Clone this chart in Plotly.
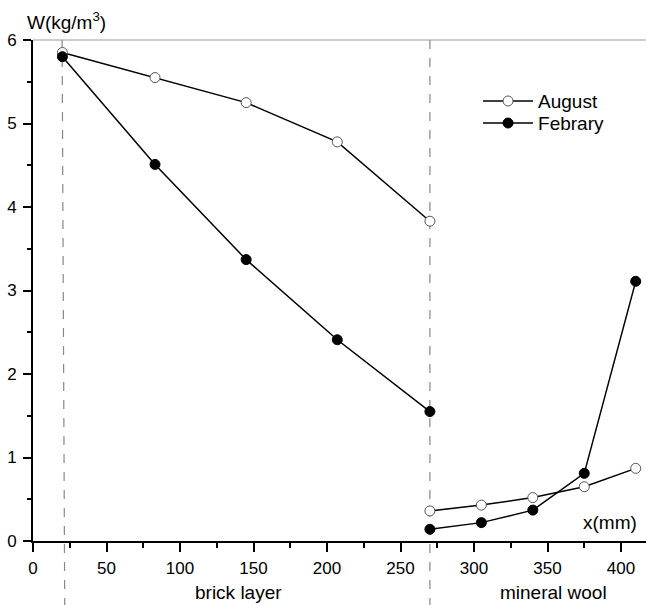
import plotly.graph_objects as go

# Moisture content profile across the wall (brick layer + mineral wool)
x_brick = [20, 83, 145, 207, 270]
aug_brick = [5.85, 5.55, 5.25, 4.78, 3.83]
feb_brick = [5.80, 4.51, 3.37, 2.41, 1.55]

x_wool = [270, 305, 340, 375, 410]
aug_wool = [0.36, 0.43, 0.52, 0.65, 0.87]
feb_wool = [0.14, 0.22, 0.37, 0.81, 3.11]

x_ticks = [0, 50, 100, 150, 200, 250, 300, 350, 400]
y_ticks = [0, 1, 2, 3, 4, 5, 6]

FONT = "Liberation Sans, Arial, sans-serif"
TXT = 19

aug_marker = dict(symbol="circle", size=10, color="white",
                  line=dict(color="#555555", width=1))
feb_marker = dict(symbol="circle", size=10, color="black",
                  line=dict(color="black", width=1))
line_style = dict(color="black", width=1.5)

fig = go.Figure()
fig.add_trace(go.Scatter(x=x_brick, y=aug_brick, mode="lines+markers",
                         name="August", marker=aug_marker, line=line_style,
                         legend="legend"))
fig.add_trace(go.Scatter(x=x_brick, y=feb_brick, mode="lines+markers",
                         name="Febrary", marker=feb_marker, line=line_style,
                         legend="legend2"))
fig.add_trace(go.Scatter(x=x_wool, y=aug_wool, mode="lines+markers",
                         name="August", marker=aug_marker, line=line_style,
                         showlegend=False))
fig.add_trace(go.Scatter(x=x_wool, y=feb_wool, mode="lines+markers",
                         name="Febrary", marker=feb_marker, line=line_style,
                         showlegend=False))

# layer boundaries
for xb0, xb1 in [(19.8, 21.6), (270, 270)]:
    fig.add_shape(type="line", xref="x", yref="paper",
                  x0=xb0, x1=xb1, y0=1.0, y1=-0.14,
                  line=dict(color="#888888", width=1.2, dash="dash"),
                  layer="below")

# thin top frame line
fig.add_shape(type="line", xref="paper", yref="paper", x0=0, x1=1, y0=1, y1=1,
              line=dict(color="#999999", width=1))

fig.add_annotation(text="W(kg/m<sup>3</sup>)", xref="paper", yref="paper",
                   x=-0.013, y=1.037, xanchor="left", yanchor="middle",
                   showarrow=False, font=dict(size=TXT, color="black", family=FONT))
fig.add_annotation(text="x(mm)", xref="paper", yref="paper",
                   x=0.988, y=0.036, xanchor="right", yanchor="middle",
                   showarrow=False, font=dict(size=TXT, color="black", family=FONT))
fig.add_annotation(text="brick layer", xref="x", yref="paper",
                   x=140, y=-0.102, xanchor="center", yanchor="middle",
                   showarrow=False, font=dict(size=TXT, color="black", family=FONT))
fig.add_annotation(text="mineral wool", xref="x", yref="paper",
                   x=354, y=-0.102, xanchor="center", yanchor="middle",
                   showarrow=False, font=dict(size=TXT, color="black", family=FONT))

fig.update_xaxes(range=[0, 417], tickvals=x_ticks, ticktext=[str(v) for v in x_ticks],
                 ticks="outside", ticklen=9, tickwidth=1.5, tickcolor="black",
                 minor=dict(dtick=25, ticks="outside", ticklen=5, tickwidth=1.5,
                            tickcolor="black", tick0=0),
                 showline=True, linecolor="black", linewidth=2,
                 showgrid=False, zeroline=False, ticklabelstandoff=2,
                 tickfont=dict(size=17, color="black", family=FONT))
fig.update_yaxes(range=[0, 6], tickvals=y_ticks, ticktext=[str(v) for v in y_ticks],
                 ticks="outside", ticklen=8, tickwidth=1.5, tickcolor="black",
                 minor=dict(dtick=0.5, ticks="outside", ticklen=4, tickwidth=1.5,
                            tickcolor="black", tick0=0),
                 showline=True, linecolor="black", linewidth=2,
                 showgrid=False, zeroline=False, ticklabelstandoff=3,
                 tickfont=dict(size=17, color="black", family=FONT))

legend_common = dict(xanchor="left", yanchor="middle",
                     bgcolor="rgba(0,0,0,0)", borderwidth=0,
                     font=dict(size=TXT, color="black", family=FONT),
                     itemwidth=50)

fig.update_layout(
    width=646, height=605,
    margin=dict(l=33, r=0, t=40, b=64),
    paper_bgcolor="white", plot_bgcolor="white",
    font=dict(family=FONT, color="black"),
    showlegend=True,
    legend=dict(x=0.726, y=0.878, **legend_common),
    legend2=dict(x=0.726, y=0.834, **legend_common),
)

fig.write_html("out.html")
